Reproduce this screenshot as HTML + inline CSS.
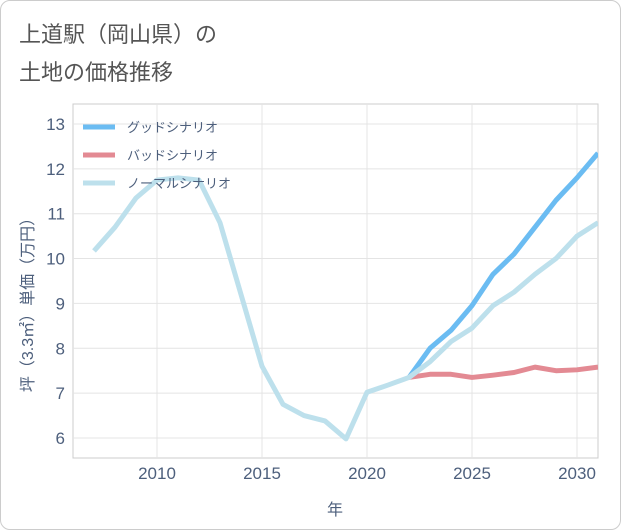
<!DOCTYPE html>
<html><head><meta charset="utf-8">
<style>
body{margin:0;background:#fff;font-family:"Liberation Sans","Noto Sans CJK JP",sans-serif;}
#card{position:absolute;left:0;top:0;width:619px;height:528px;border:1px solid #ccc;border-radius:10px;background:#fff;overflow:hidden}
.t{position:absolute;left:18px;font-size:22px;color:#555;}
</style></head><body>
<div id="card">
<div class="t" style="top:16px">上道駅（岡山県）の</div>
<div class="t" style="top:54px">土地の価格推移</div>
<svg id="s" width="621" height="530" style="position:absolute;left:0;top:0"></svg>
</div>
<script>
const years=[2007,2008,2009,2010,2011,2012,2013,2014,2015,2016,2017,2018,2019,2020,2021,2022,2023,2024,2025,2026,2027,2028,2029,2030,2031];
const normal=[10.17,10.7,11.35,11.75,11.8,11.75,10.8,9.2,7.6,6.75,6.5,6.38,5.98,7.02,7.18,7.35,7.7,8.15,8.45,8.95,9.25,9.65,10.0,10.5,10.8];
const goodYears=[2022,2023,2024,2025,2026,2027,2028,2029,2030,2031];
const good=[7.35,8.0,8.4,8.95,9.65,10.1,10.7,11.3,11.8,12.35];
const bad=[7.35,7.42,7.42,7.35,7.4,7.46,7.58,7.5,7.52,7.58];
const xTicks=[2010,2015,2020,2025,2030];
const yTicks=[6,7,8,9,10,11,12,13];
const legendLabels=["グッドシナリオ","バッドシナリオ","ノーマルシナリオ"];
const colors=["#6bbcf2","#e38a93","#bde0ec"];
const L=72,R=597,T=103,B=457;
const X=y=>156+(y-2010)*21;
const Y=v=>437-(v-6)*44.86;
const s=document.getElementById('s');const NS='http://www.w3.org/2000/svg';
const tc='#4d5f7c';
function el(t,a,p){const e=document.createElementNS(NS,t);for(const k in a)e.setAttribute(k,a[k]);(p||s).appendChild(e);return e;}
let r=el('rect',{x:L,y:T,width:R-L,height:B-T,fill:'none',stroke:'#ccc'});

xTicks.forEach(t=>{let l=el('line',{x1:X(t),x2:X(t),y1:T,y2:B,stroke:'#e4e4e4'});
let tx=el('text',{x:X(t),y:478,'text-anchor':'middle','font-size':17,fill:tc});tx.textContent=t;});
yTicks.forEach(t=>{let l=el('line',{x1:L,x2:R,y1:Y(t),y2:Y(t),stroke:'#e4e4e4'});
let tx=el('text',{x:64,y:Y(t)+6,'text-anchor':'end','font-size':17,fill:tc});tx.textContent=t;});
let xt=el('text',{x:334,y:514,'text-anchor':'middle','font-size':16,fill:tc});xt.textContent='年';
let yt=el('text',{x:0,y:0,'text-anchor':'middle','font-size':16,fill:tc,transform:'translate(32,300) rotate(-90)'});yt.textContent='坪（3.3㎡）単価（万円）';
const g=el('g',{'clip-path':'url(#c)'});
const cp=el('clipPath',{id:'c'});el('rect',{x:L,y:T,width:R-L,height:B-T},cp);
function line(xs,vs,c,n){let p=el('polyline',{points:xs.map((x,i)=>X(x)+','+Y(vs[i])).join(' '),fill:'none',stroke:c,'stroke-width':5,'stroke-linejoin':'round'},g);}
line(goodYears,good,colors[0],'good-scenario-line');
line(goodYears,bad,colors[1],'bad-scenario-line');
line(years,normal,colors[2],'normal-scenario-line');
legendLabels.forEach((lb,i)=>{const yy=126+i*28;let lg=el('g',{});
el('line',{x1:82,x2:114,y1:yy,y2:yy,stroke:colors[i],'stroke-width':5},lg);
let tx=el('text',{x:126,y:yy+5,'font-size':13,fill:tc},lg);tx.textContent=lb;});
</script>
</body></html>
